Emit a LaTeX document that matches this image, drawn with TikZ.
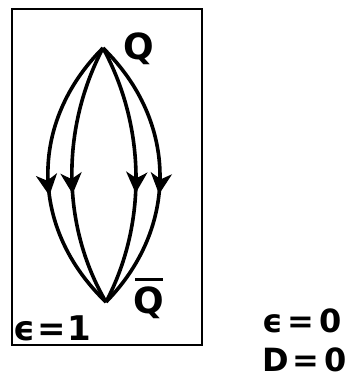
\documentclass[tikz,border=0pt]{standalone}
\usepackage{fontspec}
\setmainfont{DejaVu Sans}
\usetikzlibrary{arrows.meta,decorations.markings}
\begin{document}
\begin{tikzpicture}[x=1pt,y=-1pt,
  line/.style={line width=3.6pt,
    postaction={decorate,decoration={markings,
      mark=at position 0.57 with {\arrow{Stealth[length=21pt,width=21pt,inset=6pt]}}}}},
  lbl/.style={font=\bfseries\fontsize{36}{36}\selectfont, inner sep=0pt},
  txt/.style={font=\bfseries\fontsize{32}{32}\selectfont, inner sep=0pt, anchor=base west}]
\useasboundingbox (0,0) rectangle (355,391);
\draw[line width=2pt] (11.5,9) rectangle (201.5,345);
\coordinate (top) at (103,48);
\coordinate (bot) at (106,302);
\draw[line] (top) .. controls (29,122) and (29,228) .. (bot);
\draw[line] (top) .. controls (61,128) and (61,225) .. (bot);
\draw[line] (top) .. controls (146.5,128) and (146.5,225) .. (bot);
\draw[line] (top) .. controls (178.5,122) and (178.5,228) .. (bot);
\node[lbl, anchor=base] (q) at (139,59) {Q};
\node[lbl, anchor=base] (qb) at (149,313) {Q};
\draw[line width=3pt] (135,279) -- (163,279);
\node[txt, font=\bfseries\fontsize{34}{34}\selectfont] (e1) at (13,340) {ϵ\kern2pt=\kern2pt1};
\node[txt] (e0) at (262,332) {ϵ\kern5pt=\kern5pt0};
\node[txt] (d0) at (262,371) {D\kern4pt=\kern5pt0};
\end{tikzpicture}
\end{document}
